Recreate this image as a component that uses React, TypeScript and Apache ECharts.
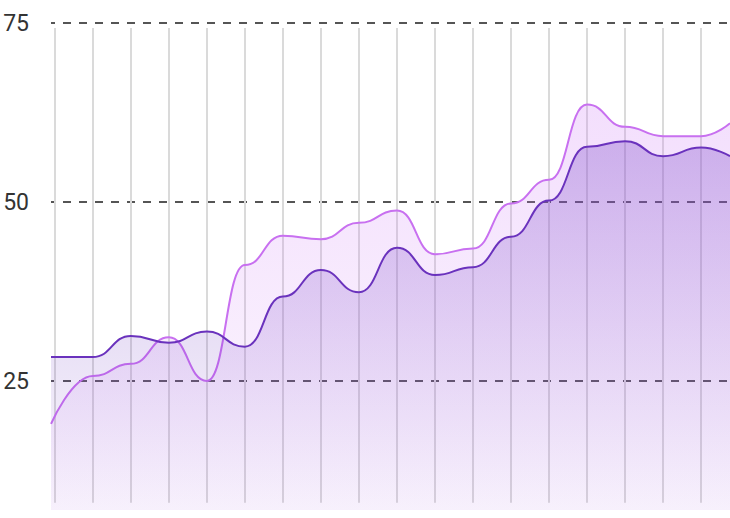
import { useEffect, useRef } from "react";
import * as echarts from "echarts";

// x positions of the data points (grid columns are at whole numbers 0..17)
const xPositions = [-0.1, 1, 2, 3, 4, 5, 6, 7, 8, 9, 10, 11, 12, 13, 14, 15, 16, 17, 17.76];
const seriesDark = [28.35, 28.35, 31.3, 30.35, 31.9, 29.8, 36.8, 40.5, 37.4, 43.6, 39.8, 40.9, 45.15, 50.2, 57.7, 58.5, 56.4, 57.6, 56.4];
const seriesPink = [19.0, 25.7, 27.4, 31.1, 25.0, 41.2, 45.3, 44.8, 47.1, 48.8, 42.7, 43.5, 49.8, 53.1, 63.6, 60.5, 59.2, 59.2, 61.0];
const columnPositions = [0, 1, 2, 3, 4, 5, 6, 7, 8, 9, 10, 11, 12, 13, 14, 15, 16, 17];
const yTickLabels = [25, 50, 75];
const columnTop = 74.3;
const columnBottom = 8;

export default function App() {
  const ref = useRef<HTMLDivElement>(null);
  useEffect(() => {
    const chart = echarts.init(ref.current!, null, { renderer: "svg" });
    const pinkData = xPositions.map((x, i) => [x, seriesPink[i]]);
    const darkData = xPositions.map((x, i) => [x, seriesDark[i]]);
    chart.setOption({
      animation: false,
      grid: { left: 51, right: 0, top: 23, bottom: 0, containLabel: false, outerBoundsMode: "none" },
      xAxis: {
        type: "value",
        min: "dataMin",
        max: "dataMax",
        show: false,
        splitLine: { show: false },
      },
      yAxis: {
        type: "value",
        min: 0,
        max: 75,
        interval: 25,
        axisLine: { show: false },
        axisTick: { show: false },
        axisLabel: {
          margin: 22,
          fontSize: 23,
          color: "#333333",
          fontFamily: "Roboto",
          formatter: (v: number) => (yTickLabels.includes(v) ? String(v) : ""),
        },
        splitLine: {
          show: true,
          lineStyle: { color: "#555555", width: 1.8, type: [8, 8], dashOffset: 4 },
        },
      },
      series: [
        {
          type: "line",
          data: pinkData,
          smooth: 0.5,
          smoothMonotone: "x",
          showSymbol: false,
          z: 2,
          lineStyle: { color: "#c870f0", width: 2 },
          areaStyle: {
            color: new echarts.graphic.LinearGradient(0, 0, 0, 1, [
              { offset: 0, color: "rgba(205,120,245,0.34)" },
              { offset: 1, color: "rgba(205,120,245,0.05)" },
            ]),
          },
          markLine: {
            silent: true,
            symbol: "none",
            z: 1,
            label: { show: false },
            lineStyle: { color: "#dadada", width: 2, type: "solid" },
            emphasis: { disabled: true },
            data: columnPositions.map((c) => [
              { coord: [c, columnTop] },
              { coord: [c, columnBottom] },
            ]),
          },
        },
        {
          type: "line",
          data: darkData,
          smooth: 0.5,
          smoothMonotone: "x",
          showSymbol: false,
          z: 3,
          lineStyle: { color: "#6a32bd", width: 2 },
          areaStyle: {
            color: new echarts.graphic.LinearGradient(0, 0, 0, 1, [
              { offset: 0, color: "rgba(110,55,195,0.42)" },
              { offset: 1, color: "rgba(110,55,195,0.0)" },
            ]),
          },
        },
      ],
    });
    return () => chart.dispose();
  }, []);
  return (
    <div
      style={{
        position: "absolute",
        left: 0,
        top: 0,
        width: 730,
        height: 510,
        overflow: "hidden",
        background: "#ffffff",
      }}
    >
      <div ref={ref} style={{ width: 730, height: 560 }} />
    </div>
  );
}
